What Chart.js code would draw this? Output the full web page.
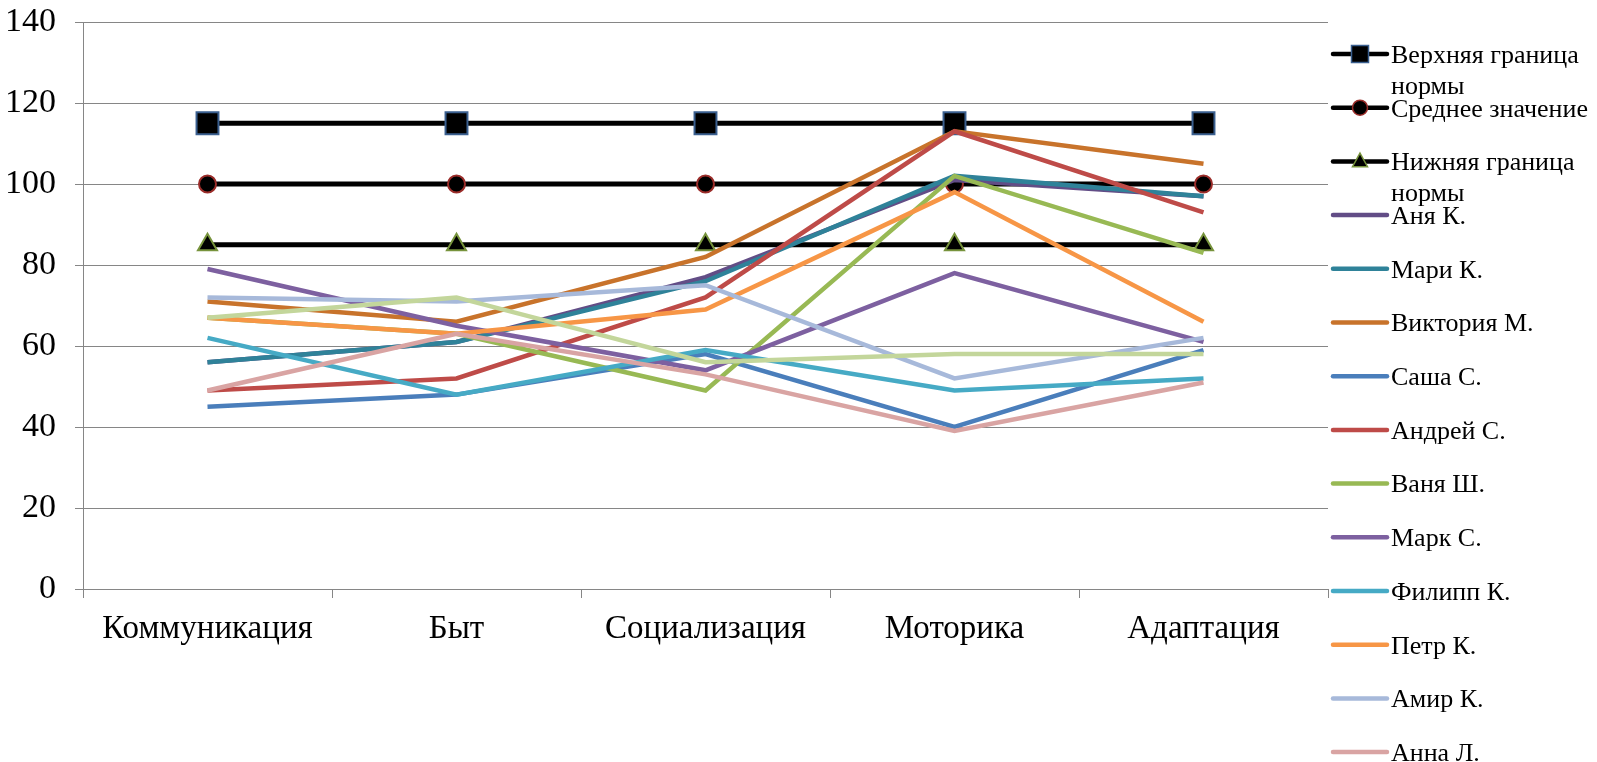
<!DOCTYPE html>
<html lang="ru">
<head>
    <meta charset="UTF-8">
    <title>Профиль развития</title>
    <script src="https://cdn.jsdelivr.net/npm/chart.js"></script>
    <style>
        body {
            margin: 0;
            background: #fff;
            overflow: hidden;
        }
    </style>
</head>
<body>
    <canvas id="grafico" width="1597" height="762"></canvas>

    <script>
        const categorias = ["Коммуникация", "Быт", "Социализация", "Моторика", "Адаптация"];

        const verkhnyaya = [115, 115, 115, 115, 115];
        const srednee = [100, 100, 100, 100, 100];
        const nizhnyaya = [85, 85, 85, 85, 85];

        const anya = [56, 61, 77, 101, 97];
        const mari = [56, 61, 76, 102, 97];
        const viktoriya = [71, 66, 82, 113, 105];
        const sasha = [45, 48, 58, 40, 59];
        const andrey = [49, 52, 72, 113, 93];
        const vanya = [67, 63, 49, 102, 83];
        const mark = [79, 65, 54, 78, 61];
        const filipp = [62, 48, 59, 49, 52];
        const petr = [67, 63, 69, 98, 66];
        const amir = [72, 71, 75, 52, 62];
        const anna = [49, 63, 53, 39, 51];
        const pyatnadtsatyy = [67, 72, 56, 58, 58]; // подпись в легенде обрезана

        const fuente = '"Liberation Serif", "Times New Roman", serif';

        function serie(label, data, color, extra) {
            return Object.assign({
                label: label,
                data: data,
                borderColor: color,
                backgroundColor: color,
                borderWidth: 4.5,
                pointRadius: 0,
                tension: 0,
                fill: false
            }, extra || {});
        }

        const datasets = [
            serie("Верхняя граница\nнормы", verkhnyaya, "#000", {
                borderWidth: 5, pointStyle: "rect", pointRadius: 15.5, pointBackgroundColor: "#000",
                pointBorderColor: "#3A5F8F", pointBorderWidth: 2, marca: "rect", marcaBorde: "#3A5F8F"
            }),
            serie("Среднее значение", srednee, "#000", {
                borderWidth: 5, pointStyle: "circle", pointRadius: 8.5, pointBackgroundColor: "#000",
                pointBorderColor: "#9B2D2A", pointBorderWidth: 2, marca: "circle", marcaBorde: "#9B2D2A"
            }),
            serie("Нижняя граница\nнормы", nizhnyaya, "#000", {
                borderWidth: 5, pointStyle: "triangle", pointRadius: 11, pointBackgroundColor: "#000",
                pointBorderColor: "#77933C", pointBorderWidth: 2, marca: "triangle", marcaBorde: "#77933C"
            }),
            serie("Аня К.", anya, "#624D86"),
            serie("Мари К.", mari, "#2F8299"),
            serie("Виктория М.", viktoriya, "#C8732B"),
            serie("Саша С.", sasha, "#4A7EBB"),
            serie("Андрей С.", andrey, "#BE4B48"),
            serie("Ваня Ш.", vanya, "#98B954"),
            serie("Марк С.", mark, "#7D60A0"),
            serie("Филипп К.", filipp, "#46AAC5"),
            serie("Петр К.", petr, "#F79646"),
            serie("Амир К.", amir, "#A7B9DA"),
            serie("Анна Л.", anna, "#D9A4A3"),
            serie("", pyatnadtsatyy, "#C3D69B")
        ];
        // как в Excel: каждая следующая серия поверх предыдущей
        datasets.forEach((d, i) => { d.order = datasets.length - i; });

        function marcador(ctx, tipo, x, y, r, borde) {
            ctx.save();
            ctx.fillStyle = "#000";
            ctx.strokeStyle = borde;
            ctx.lineWidth = 1.5;
            ctx.beginPath();
            if (tipo === "rect") {
                ctx.rect(x - r, y - r, 2 * r, 2 * r);
            } else if (tipo === "circle") {
                ctx.arc(x, y, r, 0, Math.PI * 2);
            } else {
                ctx.moveTo(x, y - r * 1.1);
                ctx.lineTo(x + r, y + r * 0.7);
                ctx.lineTo(x - r, y + r * 0.7);
                ctx.closePath();
            }
            ctx.fill();
            ctx.stroke();
            ctx.restore();
        }

        const leyenda = {
            id: "leyenda",
            afterDraw(chart) {
                const ctx = chart.ctx;
                const x0 = 1333, x1 = 1387, xt = 1391;
                chart.data.datasets.forEach((d, i) => {
                    if (!d.label) return;
                    const y = 54 + i * 53.7;
                    ctx.save();
                    ctx.strokeStyle = d.borderColor;
                    ctx.lineWidth = 4.5;
                    ctx.lineCap = "round";
                    ctx.beginPath();
                    ctx.moveTo(x0, y);
                    ctx.lineTo(x1, y);
                    ctx.stroke();
                    ctx.restore();
                    if (d.marca) {
                        marcador(ctx, d.marca, (x0 + x1) / 2, y, d.marca === "rect" ? 8.5 : 7.5, d.marcaBorde);
                    }
                    ctx.save();
                    ctx.fillStyle = "#000";
                    ctx.font = "26px " + fuente;
                    ctx.textBaseline = "middle";
                    d.label.split("\n").forEach((linea, k) => {
                        ctx.fillText(linea, xt, y + 2 + k * 31);
                    });
                    ctx.restore();
                });
            }
        };

        const ctx = document.getElementById("grafico").getContext("2d");
        new Chart(ctx, {
            type: "line",
            data: {
                labels: categorias,
                datasets: datasets
            },
            plugins: [leyenda],
            options: {
                responsive: false,
                animation: false,
                layout: {
                    padding: { left: 0, top: 22, right: 269, bottom: 0 }
                },
                plugins: {
                    legend: { display: false },
                    tooltip: { enabled: false }
                },
                scales: {
                    x: {
                        offset: true,
                        grid: {
                            offset: true,
                            drawOnChartArea: false,
                            tickLength: 9,
                            color: "#868686"
                        },
                        border: { color: "#868686", width: 1 },
                        ticks: {
                            color: "#000",
                            padding: 12,
                            maxRotation: 0,
                            font: { family: fuente, size: 33 }
                        },
                        afterFit: s => { s.height = 173; s.paddingLeft = 0; s.paddingRight = 0; }
                    },
                    y: {
                        min: 0,
                        max: 140,
                        ticks: {
                            stepSize: 20,
                            color: "#000",
                            padding: 19,
                            font: { family: fuente, size: 34 }
                        },
                        grid: { color: "#868686", tickLength: 8 },
                        border: { color: "#868686", width: 1 },
                        afterFit: s => { s.width = 83; s.paddingTop = 0; s.paddingBottom = 0; }
                    }
                }
            }
        });
    </script>
</body>
</html>
